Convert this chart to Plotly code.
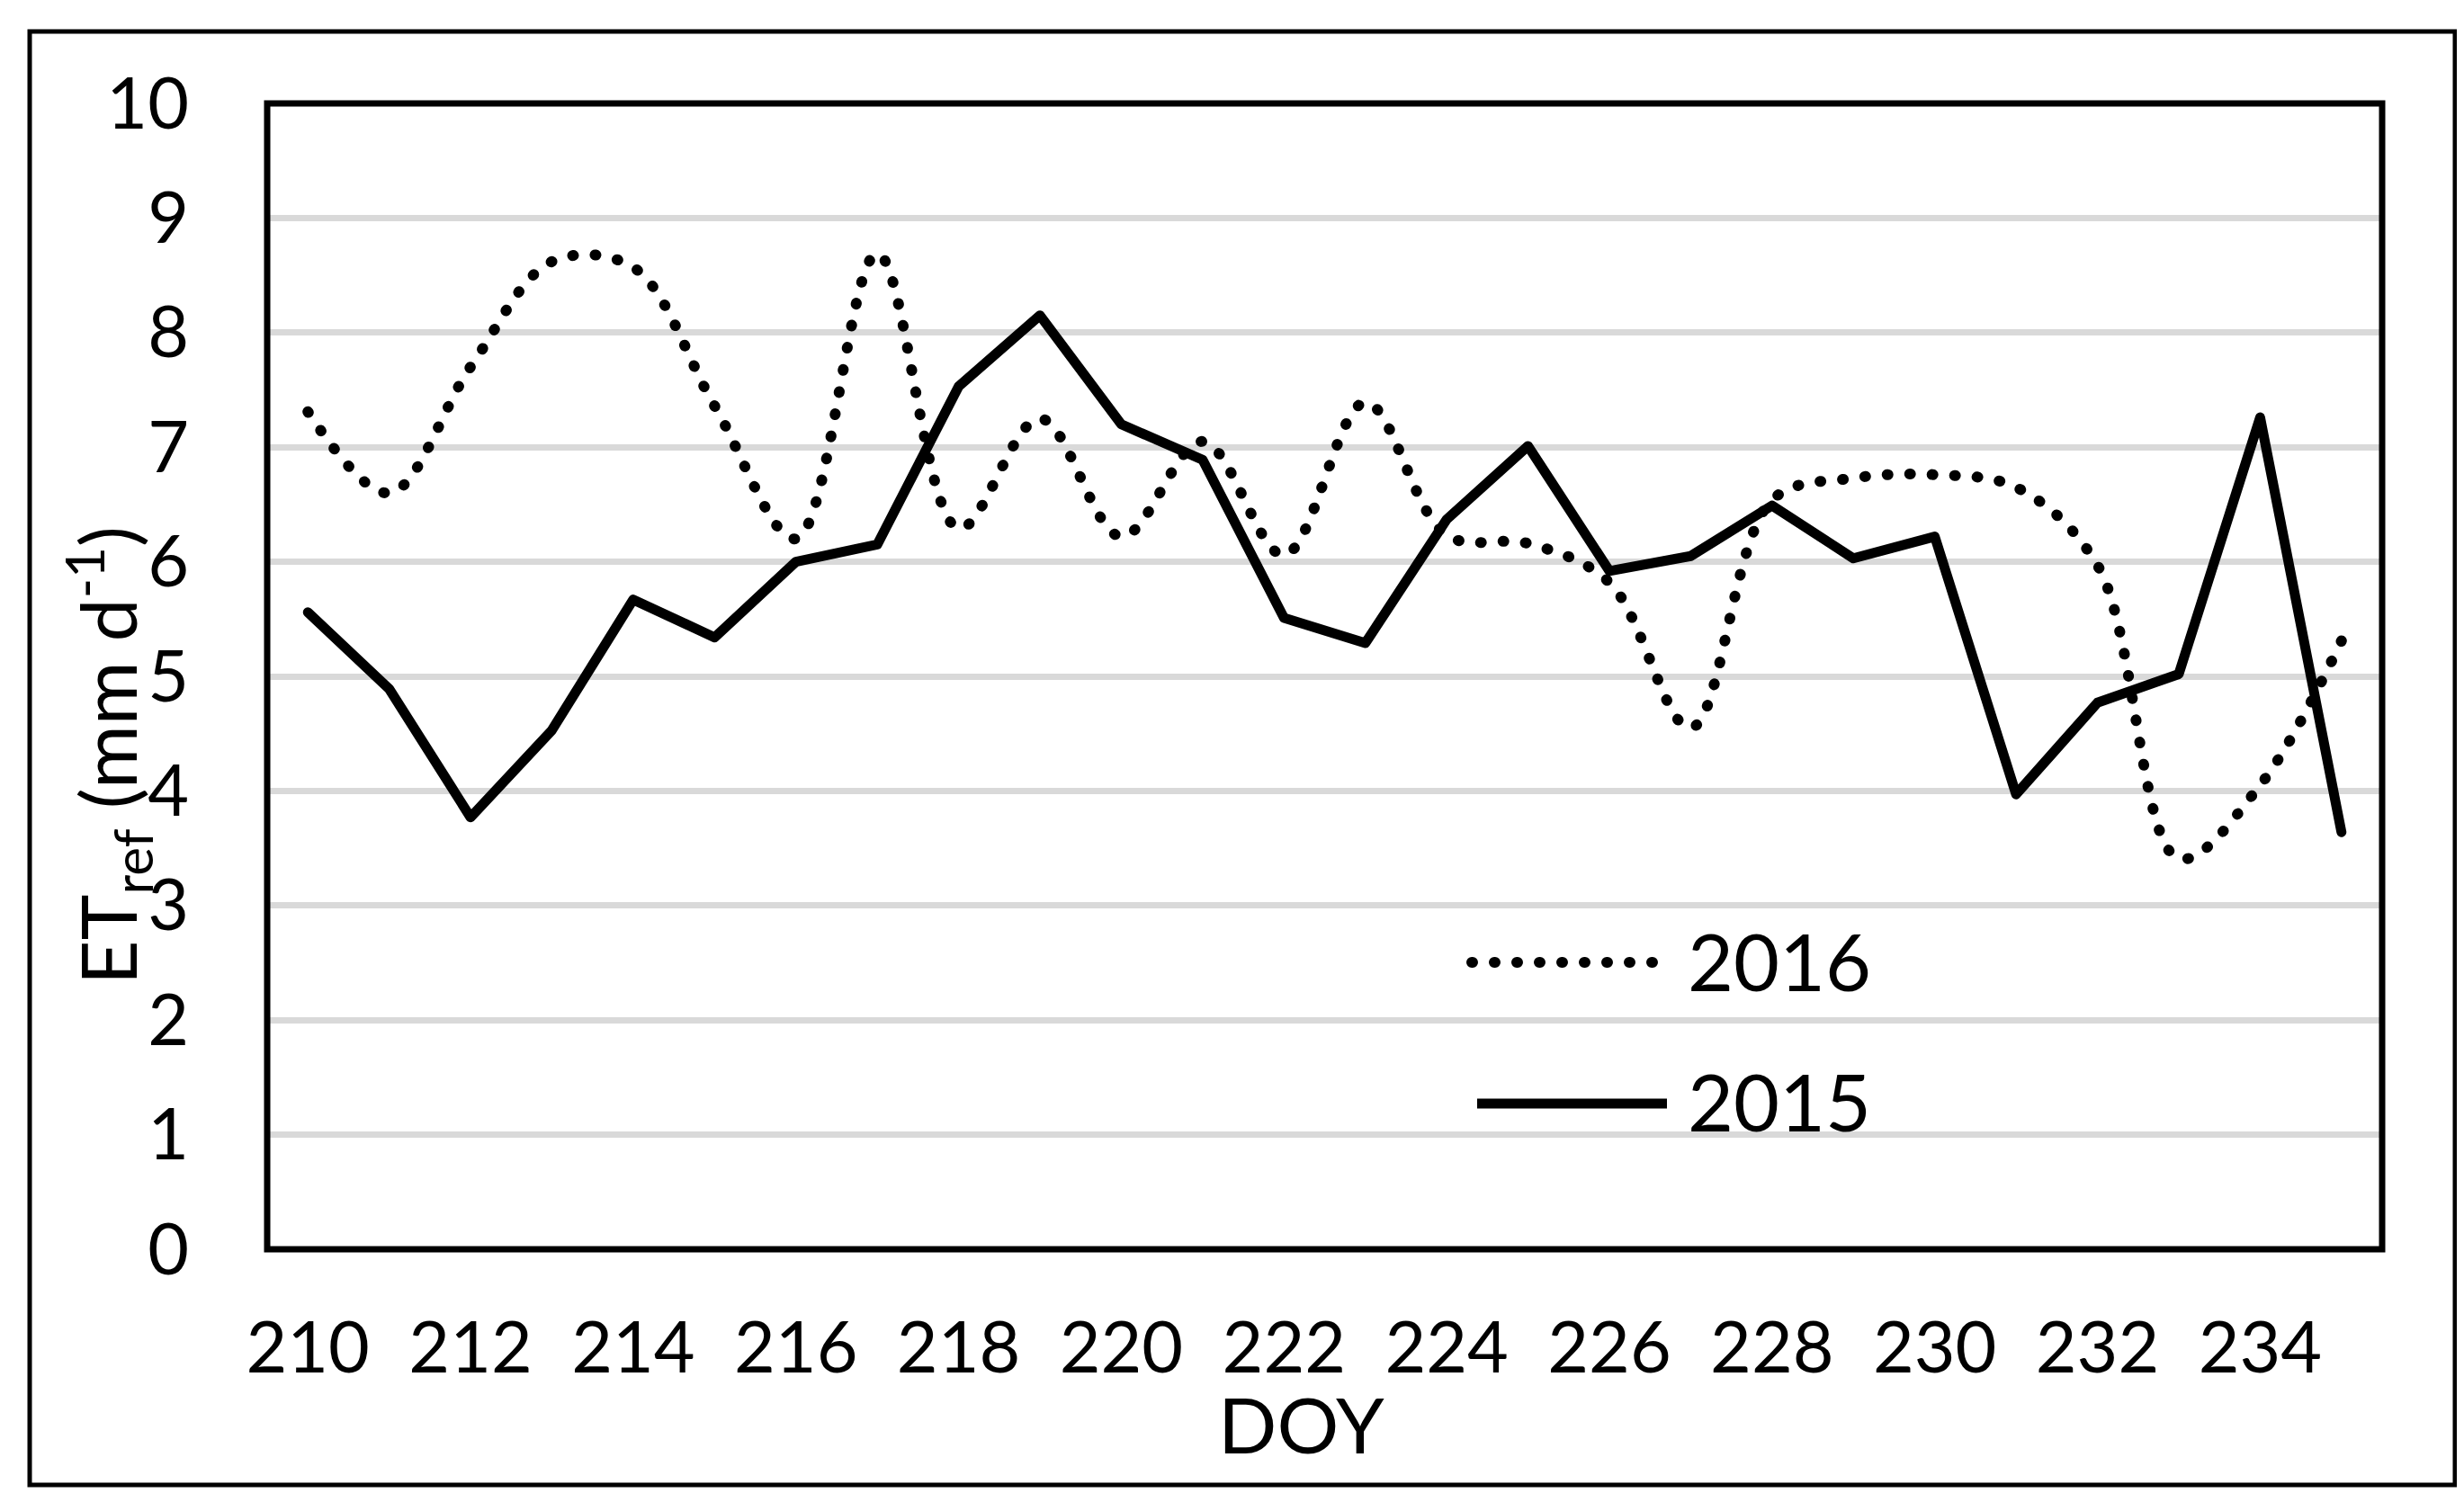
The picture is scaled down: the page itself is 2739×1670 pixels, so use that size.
import plotly.graph_objects as go

# ---- data ----
doy = list(range(210, 236))
et_2015 = [5.56, 4.89, 3.77, 4.53, 5.67, 5.34, 6.00, 6.15, 7.53, 8.15, 7.20, 6.89, 5.51,
           5.29, 6.37, 7.01, 5.92, 6.05, 6.49, 6.03, 6.22, 3.97, 4.77, 5.02, 7.26, 3.64]
et_2016 = [7.31, 6.60, 7.70, 8.62, 8.57, 7.36, 6.20, 8.69, 6.29, 7.25, 6.22, 7.05, 6.06,
           7.39, 6.23, 6.16, 5.82, 4.55, 6.54, 6.73, 6.76, 6.65, 5.97, 3.41, 4.05, 5.31]
x_ticks = list(range(210, 235, 2))
y_ticks = list(range(0, 11))
series_names = ["2016", "2015"]

W, H = 2739, 1670
L, R, T, B = 289, 2640, 107, 1381
FONT = "Lato"
DOT = "1px,24px"

def px(x):
    return (x - L) / (R - L)

def py(y):
    return (B - y) / (B - T)

fig = go.Figure()
fig.add_trace(go.Scatter(x=doy, y=et_2016, mode="lines", name=series_names[0],
                         line=dict(color="black", width=12, dash=DOT, shape="spline", smoothing=1.0),
                         showlegend=False))
fig.add_trace(go.Scatter(x=doy, y=et_2015, mode="lines", name=series_names[1],
                         line=dict(color="black", width=11), showlegend=False))

# plot border and outer frame
fig.add_shape(type="rect", xref="paper", yref="paper", x0=0, x1=1, y0=0, y1=1,
              line=dict(color="black", width=7), layer="above")
fig.add_shape(type="rect", xref="paper", yref="paper", x0=px(25), x1=px(2721), y0=py(1643), y1=py(27),
              line=dict(color="black", width=5), layer="above")

# legend drawn inside the plot
fig.add_shape(type="line", xref="paper", yref="paper", x0=px(1628), x1=px(1840), y0=py(1062), y1=py(1062),
              line=dict(color="black", width=12, dash=DOT))
fig.add_shape(type="line", xref="paper", yref="paper", x0=px(1634), x1=px(1845), y0=py(1219), y1=py(1219),
              line=dict(color="black", width=11))
fig.add_annotation(x=px(1866), y=py(1060), xref="paper", yref="paper", text=series_names[0],
                   showarrow=False, xanchor="left", yanchor="middle", font=dict(size=88, color="black", family=FONT))
fig.add_annotation(x=px(1866), y=py(1216), xref="paper", yref="paper", text=series_names[1],
                   showarrow=False, xanchor="left", yanchor="middle", font=dict(size=88, color="black", family=FONT))

# axis titles
fig.add_annotation(x=px(1438), y=py(1574), xref="paper", yref="paper", text="DOY", borderpad=0,
                   showarrow=False, xanchor="center", yanchor="middle", font=dict(size=86, color="black", family=FONT))
fig.add_annotation(x=px(112), y=py(832), xref="paper", yref="paper",
                   text="ET<sub>ref</sub> (mm d<sup>-1</sup>)", textangle=-90,
                   showarrow=False, xanchor="center", yanchor="middle", font=dict(size=86, color="black", family=FONT))

fig.update_xaxes(range=[209.5, 235.5], tickmode="array", tickvals=x_ticks, ticktext=[str(v) for v in x_ticks],
                 showgrid=False, zeroline=False, showline=False, ticks="", ticklabelstandoff=57,
                 tickfont=dict(size=79, color="black", family=FONT), automargin=False)
fig.update_yaxes(range=[0, 10], tickmode="array", tickvals=y_ticks, ticktext=[str(v) for v in y_ticks],
                 showgrid=True, gridcolor="#d9d9d9", gridwidth=7, zeroline=False, showline=False, ticks="",
                 ticklabelstandoff=86, tickfont=dict(size=79, color="black", family=FONT), automargin=False)

fig.update_layout(width=W, height=H, template="none", paper_bgcolor="white", plot_bgcolor="white",
                  margin=dict(l=L, r=W - R, t=T, b=H - B, pad=0), showlegend=False,
                  font=dict(family=FONT, color="black"))

post = """
var gd = document.getElementById('{plot_id}');
function fixCaps(){
  gd.querySelectorAll('path').forEach(function(p){
    var d = (p.style.strokeDasharray || '').replace(/\\s/g,'');
    if (d.indexOf('1px,24px') === 0) { p.style.strokeLinecap = 'round'; }
    if (p.classList.contains('js-line')) { p.style.strokeLinejoin = 'round'; p.style.strokeLinecap = 'round'; }
  });
}
fixCaps();
if (gd.on) { gd.on('plotly_afterplot', fixCaps); }
"""
fig.write_html("out.html", post_script=post)
